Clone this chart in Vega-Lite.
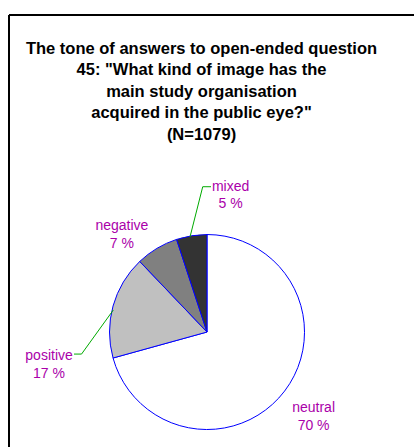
{
  "$schema": "https://vega.github.io/schema/vega-lite/v6.json",
  "autosize": {"type": "none"},
  "padding": {"left": 9, "top": 15, "right": 0, "bottom": 0},
  "width": 405,
  "height": 432,
  "background": "white",
  "config": {
    "view": {"stroke": null},
    "style": {"cell": {"stroke": null}},
    "axis": {"disable": true}
  },
  "title": {
    "text": ["The tone of answers to open-ended question", "45: \"What kind of image has the", "main study organisation", "acquired in the public eye?\"", "(N=1079)"],
    "font": "Liberation Sans",
    "fontSize": 16.5,
    "fontWeight": "bold",
    "lineHeight": 21.5,
    "color": "#000000",
    "baseline": "top",
    "anchor": "middle",
    "frame": "group",
    "offset": -129,
    "dx": -10
  },
  "datasets": {
    "tones": [
      {"tone": "neutral", "pct": 70, "label": "neutral\n70 %"},
      {"tone": "positive", "pct": 17, "label": "positive\n17 %"},
      {"tone": "negative", "pct": 7, "label": "negative\n7 %"},
      {"tone": "mixed", "pct": 5, "label": "mixed\n5 %"}
    ],
    "leaders": [
      {"leader": "mixed", "k": 0, "u": -0.174, "v": 0.977},
      {"leader": "mixed", "k": 1, "u": -0.044, "v": 1.49},
      {"leader": "mixed", "k": 2, "u": 0.041, "v": 1.49},
      {"leader": "positive", "k": 0, "u": -0.961, "v": 0.226},
      {"leader": "positive", "k": 1, "u": -1.287, "v": -0.226},
      {"leader": "positive", "k": 2, "u": -1.364, "v": -0.226}
    ]
  },
  "data": {"name": "tones"},
  "layer": [
    {
      "mark": {"type": "rule", "stroke": "#000000", "strokeWidth": 2},
      "encoding": {
        "x": {"datum": -2.031, "type": "quantitative", "scale": {"domain": [-2.031, 2.123], "nice": false, "zero": false}, "axis": null},
        "y": {"datum": -1.179, "type": "quantitative", "scale": {"domain": [-1.179, 3.251], "nice": false, "zero": false}, "axis": null},
        "y2": {"datum": 3.251}
      }
    },
    {
      "mark": {"type": "rule", "stroke": "#000000", "strokeWidth": 2},
      "encoding": {
        "x": {"datum": -2.031, "type": "quantitative", "axis": null},
        "x2": {"datum": 2.123},
        "y": {"datum": 3.251, "type": "quantitative", "axis": null}
      }
    },
    {
      "mark": {"type": "arc", "outerRadius": 97.5, "stroke": "#0000ff", "strokeWidth": 1},
      "encoding": {
        "x": {"datum": 0, "type": "quantitative", "axis": null},
        "y": {"datum": 0, "type": "quantitative", "axis": null},
        "theta": {"field": "pct", "type": "quantitative", "stack": true},
        "order": {"field": "pct", "sort": "descending"},
        "color": {"field": "tone", "type": "nominal", "legend": null,
          "scale": {"domain": ["neutral", "positive", "negative", "mixed"], "range": ["#ffffff", "#c0c0c0", "#808080", "#333333"]}}
      }
    },
    {
      "data": {"name": "leaders"},
      "mark": {"type": "line", "stroke": "#00aa00", "strokeWidth": 1},
      "encoding": {
        "x": {"field": "u", "type": "quantitative", "axis": null},
        "y": {"field": "v", "type": "quantitative", "axis": null},
        "detail": {"field": "leader"},
        "order": {"field": "k"}
      }
    },
    {
      "mark": {"type": "text", "radius": 97.5, "font": "Liberation Sans", "fontSize": 14, "lineHeight": 17.5, "lineBreak": "\n", "align": "center", "baseline": "middle", "color": "#aa00aa", "dx": 29, "dy": 17},
      "encoding": {
        "x": {"datum": 0, "type": "quantitative", "axis": null},
        "y": {"datum": 0, "type": "quantitative", "axis": null},
        "theta": {"field": "pct", "type": "quantitative", "stack": true},
        "order": {"field": "pct", "sort": "descending"},
        "text": {"condition": {"test": "datum.tone === 'neutral'", "field": "label"}, "value": ""}
      }
    },
    {
      "mark": {"type": "text", "radius": 97.5, "font": "Liberation Sans", "fontSize": 14, "lineHeight": 17.5, "lineBreak": "\n", "align": "center", "baseline": "middle", "color": "#aa00aa", "dx": -64, "dy": 50},
      "encoding": {
        "x": {"datum": 0, "type": "quantitative", "axis": null},
        "y": {"datum": 0, "type": "quantitative", "axis": null},
        "theta": {"field": "pct", "type": "quantitative", "stack": true},
        "order": {"field": "pct", "sort": "descending"},
        "text": {"condition": {"test": "datum.tone === 'positive'", "field": "label"}, "value": ""}
      }
    },
    {
      "mark": {"type": "text", "radius": 97.5, "font": "Liberation Sans", "fontSize": 14, "lineHeight": 17.5, "lineBreak": "\n", "align": "center", "baseline": "middle", "color": "#aa00aa", "dx": -35, "dy": -22},
      "encoding": {
        "x": {"datum": 0, "type": "quantitative", "axis": null},
        "y": {"datum": 0, "type": "quantitative", "axis": null},
        "theta": {"field": "pct", "type": "quantitative", "stack": true},
        "order": {"field": "pct", "sort": "descending"},
        "text": {"condition": {"test": "datum.tone === 'negative'", "field": "label"}, "value": ""}
      }
    },
    {
      "mark": {"type": "text", "radius": 97.5, "font": "Liberation Sans", "fontSize": 14, "lineHeight": 17.5, "lineBreak": "\n", "align": "center", "baseline": "middle", "color": "#aa00aa", "dx": 39, "dy": -49},
      "encoding": {
        "x": {"datum": 0, "type": "quantitative", "axis": null},
        "y": {"datum": 0, "type": "quantitative", "axis": null},
        "theta": {"field": "pct", "type": "quantitative", "stack": true},
        "order": {"field": "pct", "sort": "descending"},
        "text": {"condition": {"test": "datum.tone === 'mixed'", "field": "label"}, "value": ""}
      }
    }
  ]
}
